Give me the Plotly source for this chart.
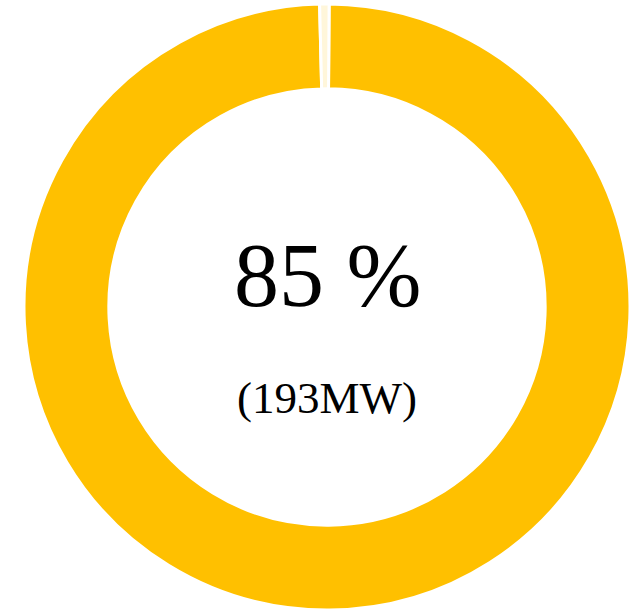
import plotly.graph_objects as go

labels = ["Output", "Gap"]
values = [99.5, 0.5]
colors = ["#FFC000", "#FFF6DA"]
percent_text = "85 %"
power_text = "(193MW)"

fig = go.Figure()
fig.add_trace(go.Pie(
    labels=labels,
    values=values,
    hole=0.72,
    sort=False,
    direction="clockwise",
    rotation=0.4,
    marker=dict(colors=colors, line=dict(color="white", width=3)),
    textinfo="none",
    hoverinfo="skip",
    showlegend=False,
))

fig.add_annotation(text=percent_text, x=0.5, y=0.552, xref="paper", yref="paper",
                   showarrow=False, font=dict(family="Liberation Serif", size=90, color="black"),
                   xanchor="center", yanchor="middle")
fig.add_annotation(text=power_text, x=0.5, y=0.35, xref="paper", yref="paper",
                   showarrow=False, font=dict(family="Liberation Serif", size=45, color="black"),
                   xanchor="center", yanchor="middle")

fig.update_layout(
    width=641, height=610,
    margin=dict(l=24, r=11, t=4, b=0),
    paper_bgcolor="white", plot_bgcolor="white",
)

fig.write_html("out.html")
